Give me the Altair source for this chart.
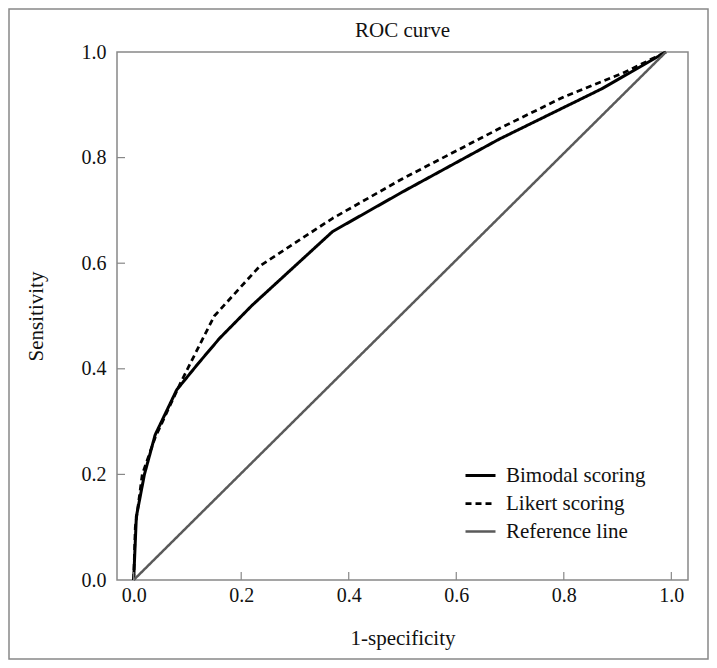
import altair as alt
import pandas as pd

# ---- data ----
series_names = ["Bimodal scoring", "Likert scoring", "Reference line"]

bimodal_x = [0.0, 0.005, 0.02, 0.04, 0.08, 0.12, 0.16, 0.22, 0.37, 0.50, 0.68, 0.87, 0.99]
bimodal_y = [0.0, 0.12, 0.20, 0.275, 0.36, 0.41, 0.458, 0.52, 0.66, 0.735, 0.835, 0.93, 1.0]

likert_x = [0.0, 0.003, 0.016, 0.04, 0.087, 0.13, 0.15, 0.235, 0.37, 0.50, 0.68, 0.80, 0.91, 0.99]
likert_y = [0.0, 0.10, 0.20, 0.27, 0.373, 0.46, 0.50, 0.595, 0.685, 0.76, 0.855, 0.915, 0.96, 1.0]

ref_x = [0.0, 0.99]
ref_y = [0.0, 1.0]

tick_values = [0.0, 0.2, 0.4, 0.6, 0.8, 1.0]
inner_y_ticks = [0.2, 0.4, 0.6, 0.8]

rows = []
for name, xs, ys in zip(series_names, [bimodal_x, likert_x, ref_x], [bimodal_y, likert_y, ref_y]):
    for i, (xv, yv) in enumerate(zip(xs, ys)):
        rows.append({"x": xv, "y": yv, "series": name, "order": i})
df = pd.DataFrame(rows)

W, H = 571, 528
FONT = "Liberation Serif"

xscale = alt.Scale(domain=[-0.031, 1.031], nice=False, zero=False)
yscale = alt.Scale(domain=[0, 1], nice=False, zero=False)

x_axis = alt.Axis(values=tick_values, format=".1f", title="1-specificity",
                  ticks=False, domain=False, grid=False,
                  labelPadding=5, titlePadding=22)
y_axis = alt.Axis(values=tick_values, format=".1f", title="Sensitivity",
                  ticks=False, domain=False, grid=False,
                  labelPadding=11, titlePadding=35)

lines = alt.Chart(df).mark_line(strokeCap="butt", strokeJoin="round").encode(
    x=alt.X("x:Q", scale=xscale, axis=x_axis),
    y=alt.Y("y:Q", scale=yscale, axis=y_axis),
    order="order:Q",
    color=alt.Color("series:N", scale=alt.Scale(domain=series_names, range=["#000000", "#000000", "#5a5a5a"]),
                    legend=alt.Legend(title=None)),
    strokeDash=alt.StrokeDash("series:N", scale=alt.Scale(domain=series_names, range=[[1, 0], [6, 4], [1, 0]]),
                              legend=alt.Legend(title=None)),
    strokeWidth=alt.StrokeWidth("series:N", scale=alt.Scale(domain=series_names, range=[3, 2.5, 0.9]),
                                legend=alt.Legend(title=None)),
)

ytick_df = pd.DataFrame({"v": inner_y_ticks})
xtick_df = pd.DataFrame({"v": tick_values})

yticks = alt.Chart(ytick_df).mark_rule(color="#888888", strokeWidth=1.2).encode(
    y=alt.Y("v:Q", scale=yscale, axis=y_axis),
    x=alt.value(0), x2=alt.value(8),
)
xticks = alt.Chart(xtick_df).mark_rule(color="#888888", strokeWidth=1.2).encode(
    x=alt.X("v:Q", scale=xscale, axis=x_axis),
    y=alt.value(H), y2=alt.value(H - 8),
)

frame = alt.Chart(pd.DataFrame({"a": [0]})).mark_rect(
    fill="transparent", stroke="#888888", strokeWidth=1.5
).encode(
    x=alt.value(-108), x2=alt.value(W + 20),
    y=alt.value(-43), y2=alt.value(H + 79),
)

chart = alt.layer(lines, yticks, xticks, frame).properties(
    width=W, height=H,
    title=alt.TitleParams("ROC curve", font=FONT, fontSize=21, fontWeight="normal",
                          color="#111111", anchor="middle", offset=-33, frame="group"),
    autosize=alt.AutoSizeParams(type="none"),
    padding={"left": 109, "top": 44, "right": 21, "bottom": 80},
).configure_view(
    stroke="#888888", strokeWidth=1.5
).configure_axis(
    labelFont=FONT, labelFontSize=20, labelColor="#111111",
    titleFont=FONT, titleFontSize=21, titleColor="#111111", titleFontWeight="normal",
).configure_legend(
    orient="none", legendX=352, legendY=412,
    symbolType="M-1.5,0H1.5", symbolSize=400,
    labelFont=FONT, labelFontSize=21, labelColor="#111111",
    labelOffset=14, rowPadding=6, symbolStrokeColor="#000000",
)

chart.save("out.html", embed_options={"renderer": "svg", "actions": False})
